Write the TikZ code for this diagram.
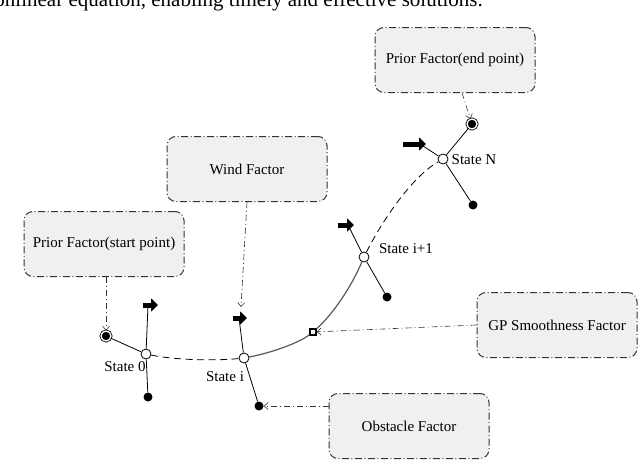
\documentclass[tikz,border=0pt]{standalone}
\usepackage{fontspec}
\setmainfont{Liberation Serif}
\usetikzlibrary{arrows.meta}

\tikzset{
  factorbox/.style={draw=black!80,fill=black!6,rounded corners=9pt,line width=1pt,
    dash pattern=on 7pt off 2.5pt on 1pt off 2.5pt,
    minimum width=160pt,minimum height=65pt,font=\fontsize{15}{17}\selectfont},
  factorlink/.style={black!80,line width=0.6pt,dash pattern=on 6pt off 3pt on 1pt off 3pt,
    -{Straight Barb[length=4pt,width=7pt]}},
  state/.style={circle,draw,fill=white,line width=0.8pt,inner sep=0pt,minimum size=10pt},
  obsdot/.style={circle,fill=black,inner sep=0pt,minimum size=9pt},
  prior/.style={circle,draw,fill=black,line width=0.8pt,double=white,double distance=1.3pt,
    inner sep=0pt,minimum size=10pt},
  gpsq/.style={rectangle,draw,fill=white,line width=1.4pt,inner sep=0pt,minimum size=6pt},
  statelabel/.style={font=\fontsize{15}{17}\selectfont,inner sep=0pt},
  link/.style={line width=0.8pt},
  heading/.style={line width=5pt,-{Triangle[length=7pt,width=13pt]}},
  traj/.style={line width=0.8pt,dash pattern=on 7pt off 4.5pt},
}

\begin{document}
\begin{tikzpicture}[x=1pt,y=-1pt]
\useasboundingbox (0,0) rectangle (640,461);
\clip (0,0) rectangle (640,461);
% text of the page above the figure
\node[anchor=base east,inner sep=0pt,font=\fontsize{21}{25}\selectfont] (pagetext) at (483,6)
  {nonlinear equation, enabling timely and effective solutions.};

% factors
\node[factorbox] (fN) at (455,60) {Prior Factor(end point)};
\node[factorbox] (fw) at (247,169) {Wind Factor};
\node[factorbox] (f0) at (104,244) {Prior Factor(start point)};
\node[factorbox] (fgp) at (557,325) {GP Smoothness Factor};
\node[factorbox] (fo) at (409,426) {Obstacle Factor};

% states along the path
\node[state] (s0) at (146,354) {};
\node[state] (si) at (244,358) {};
\node[gpsq] (gp) at (313,332) {};
\node[state] (si1) at (364,257) {};
\node[state] (sN) at (443,159) {};
\node[prior] (p0) at (106,336) {};
\node[prior] (pN) at (472,124) {};
\node[obsdot] (o0) at (148,397) {};
\node[obsdot] (oi) at (259,406) {};
\node[obsdot] (oi1) at (387,297) {};
\node[obsdot] (oN) at (473,205) {};
\coordinate (h0) at (148,305);
\coordinate (hi) at (239,318);
\coordinate (hi1) at (348,225);
\coordinate (hN) at (420,144);
\coordinate (hiw) at (241,307);

\node[statelabel] (l0) at (125,367) {State 0};
\node[statelabel] (li) at (225,377) {State i};
\node[statelabel] (li1) at (406,249) {State i+1};
\node[statelabel] (lN) at (474,160) {State N};

% trajectory
\draw[traj] (s0) .. controls (175,360) and (215,361) .. (si);
\draw[black!65,line width=1.2pt] (si) .. controls (275,352) and (300,342) .. (gp)
  .. controls (335,312) and (352,285) .. (si1);
\draw[traj] (si1) .. controls (380,225) and (410,178) .. (sN);

% heading, obstacle and prior links
\draw[link] (s0) -- (h0);
\draw[link] (s0) -- (o0);
\draw[link] (s0) -- (p0);
\draw[link] (si) -- (hi);
\draw[link] (si) -- (oi);
\draw[link] (si1) -- (hi1);
\draw[link] (si1) -- (oi1);
\draw[link] (sN) -- (hN);
\draw[link] (sN) -- (oN);
\draw[link] (sN) -- (pN);
\draw[heading] ([xshift=-5pt]h0) -- ++(15,0);
\draw[heading] ([xshift=-6pt]hi) -- ++(14,0);
\draw[heading] ([xshift=-10pt]hi1) -- ++(16,0);
\draw[heading] ([xshift=-17pt]hN) -- ++(23,0);

% factor connectors
\draw[factorlink] (f0.south -| p0) -- (p0.north);
\draw[factorlink] (fw.south) -- (hiw);
\draw[factorlink] ([xshift=7pt]fN.south) -- (pN);
\draw[factorlink] (fgp.west) -- (gp);
\draw[factorlink] (fo.west |- oi) -- (oi);
\end{tikzpicture}
\end{document}
